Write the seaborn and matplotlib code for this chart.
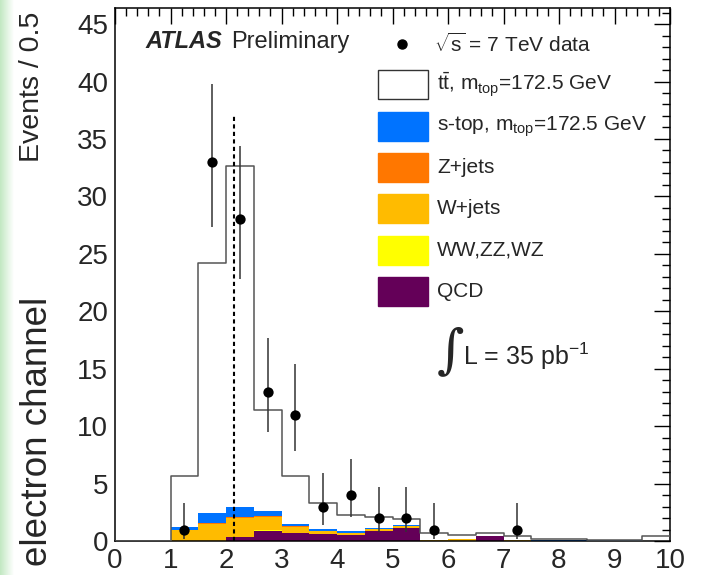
import numpy as np
import pandas as pd
import matplotlib
matplotlib.use("Agg")
import matplotlib.pyplot as plt
from matplotlib.patches import Rectangle
from matplotlib.lines import Line2D
from matplotlib.ticker import MultipleLocator
import seaborn as sns

# ---------------- data ----------------
bin_width = 0.5
x_min, x_max = 0.0, 10.0
bin_centers = [0.25, 0.75, 1.25, 1.75, 2.25, 2.75, 3.25, 3.75, 4.25, 4.75,
               5.25, 5.75, 6.25, 6.75, 7.25, 7.75, 8.25, 8.75, 9.25, 9.75]

ttbar   = [0, 0, 4.48, 21.77, 29.74, 8.74, 4.18, 2.22, 1.39, 0.96,
           0.54, 0.57, 0.31, 0.26, 0.28, 0.09, 0.06, 0.07, 0.05, 0.41]
stop    = [0, 0, 0.25, 0.90, 0.85, 0.45, 0.20, 0.20, 0.13, 0.06,
           0.05, 0.05, 0.04, 0.02, 0.04, 0.08, 0.06, 0.05, 0.05, 0.04]
zjets   = [0, 0, 0.05, 0.05, 0.08, 0.08, 0.10, 0.03, 0.03, 0.03,
           0.03, 0, 0, 0, 0, 0, 0, 0, 0, 0]
wjets   = [0, 0, 0.90, 1.45, 1.62, 1.17, 0.50, 0.20, 0.20, 0.20,
           0.14, 0.08, 0.15, 0.02, 0.08, 0.03, 0.03, 0, 0, 0]
diboson = [0, 0, 0.02, 0.03, 0.03, 0.03, 0.02, 0.02, 0.01, 0.01,
           0.01, 0, 0, 0, 0, 0, 0, 0, 0, 0]
qcd     = [0, 0, 0, 0, 0.35, 0.90, 0.70, 0.63, 0.49, 0.84,
           1.13, 0, 0, 0.40, 0, 0, 0, 0, 0, 0]

data_x  = [1.25, 1.75, 2.25, 2.75, 3.25, 3.75, 4.25, 4.75, 5.25, 5.75, 7.25]
data_n  = [1, 33, 28, 13, 11, 3, 4, 2, 2, 1, 1]
data_lo = [0.17, 27.3, 22.8, 9.5, 7.8, 1.4, 2.1, 0.75, 0.75, 0.17, 0.17]
data_hi = [3.3, 39.8, 34.4, 17.7, 15.4, 5.9, 7.1, 4.7, 4.7, 3.3, 3.3]

cut_x = 2.14
cut_top = 37.0

processes = ["ttbar", "stop", "zjets", "wjets", "diboson", "qcd"]
series = [ttbar, stop, zjets, wjets, diboson, qcd]
colors = {"ttbar": "#ffffff", "stop": "#0073ff", "zjets": "#ff7700",
          "wjets": "#ffbb00", "diboson": "#ffff00", "qcd": "#640058"}
labels = {
    "ttbar": r"t$\bar{\mathrm{t}}$, m$_{\mathrm{top}}$=172.5 GeV",
    "stop": r"s-top, m$_{\mathrm{top}}$=172.5 GeV",
    "zjets": "Z+jets",
    "wjets": "W+jets",
    "diboson": "WW,ZZ,WZ",
    "qcd": "QCD",
}

# ---------------- style ----------------
sns.set_theme(style="white")
plt.rcParams["font.family"] = ["Liberation Sans", "DejaVu Sans"]
plt.rcParams["mathtext.fontset"] = "custom"
plt.rcParams["mathtext.rm"] = "Liberation Sans"
plt.rcParams["mathtext.it"] = "Liberation Sans:italic"
plt.rcParams["mathtext.bf"] = "Liberation Sans:bold"

W, H = 704, 575
fig = plt.figure(figsize=(W / 100, H / 100), dpi=100)
fig.patch.set_facecolor("white")


def fx(x):
    return x / W


def fy(y):
    return 1 - y / H


# faint green strip on the left edge
gax = fig.add_axes([0, 0, 14 / W, 1], zorder=-5)
grad = np.linspace(0, 1, 50)[None, :, None]
c0 = np.array([0.76, 0.91, 0.76])
img = c0 * (1 - grad) + np.array([1, 1, 1]) * grad
gax.imshow(np.repeat(img, 2, axis=0), aspect="auto")
gax.axis("off")

ax = fig.add_axes([fx(115), fy(541), (670 - 115) / W, (541 - 8) / H])

# long table
rows = []
for name, vals in zip(processes, series):
    for xc, v in zip(bin_centers, vals):
        rows.append({"x": xc, "w": v, "process": name})
df = pd.DataFrame(rows)

sns.histplot(data=df, x="x", weights="w", hue="process", hue_order=processes,
             multiple="stack", binwidth=bin_width, binrange=(x_min, x_max),
             element="bars", palette=colors, alpha=1, linewidth=0,
             legend=False, ax=ax, zorder=2)

total = df.groupby("x")["w"].sum().reset_index()
sns.histplot(data=total, x="x", weights="w", binwidth=bin_width,
             binrange=(x_min, x_max), element="step", fill=False,
             color="#555555", linewidth=1.1, ax=ax, zorder=3)

ax.vlines(cut_x, 0, cut_top, colors="black", linestyles=(0, (2.0, 1.6)),
          linewidth=1.5, zorder=4)

d_n = np.array(data_n, dtype=float)
yerr = [d_n - np.array(data_lo), np.array(data_hi) - d_n]
ax.errorbar(data_x, data_n, yerr=yerr, fmt="none", ecolor="#333333",
            elinewidth=1.1, capsize=0, zorder=5)
sns.scatterplot(x=data_x, y=data_n, color="black", s=55, edgecolor="black",
                linewidth=0, ax=ax, zorder=6)

ax.set_xlim(x_min, x_max)
ax.set_ylim(0, 46.4)
ax.set_xlabel("")
ax.set_ylabel("")
ax.xaxis.set_major_locator(MultipleLocator(1))
ax.xaxis.set_minor_locator(MultipleLocator(0.2))
ax.yaxis.set_major_locator(MultipleLocator(5))
ax.yaxis.set_minor_locator(MultipleLocator(1))
ax.tick_params(which="both", direction="in", top=True, right=True,
               width=1.0, color="black", labelsize=20, pad=5)
ax.tick_params(which="major", length=11.5)
ax.tick_params(which="minor", length=5.5)
for s in ax.spines.values():
    s.set_linewidth(1.1)
    s.set_color("black")

# y-axis titles
fig.text(fx(32), fy(12), "Events / 0.5", rotation=90, ha="center", va="top",
         fontsize=20.5)
fig.text(fx(38), fy(566), "electron channel", rotation=90, ha="center",
         va="bottom", fontsize=26.5)

# ATLAS label
fig.text(fx(145), fy(48), "ATLAS", fontsize=17, fontweight="bold",
         fontstyle="italic", va="baseline", ha="left")
fig.text(fx(231), fy(48), "Preliminary", fontsize=17, va="baseline", ha="left")

# legend
fig.add_artist(Line2D([fx(402)], [fy(44)], marker="o", color="black",
                      markersize=6.5, linestyle="none",
                      transform=fig.transFigure))
fig.text(fx(434), fy(44), r"$\sqrt{\mathrm{s}}$ = 7 TeV data", fontsize=15,
         va="center", ha="left")
box_tops = [70, 112, 153, 194, 236, 277]
for name, top in zip(processes, box_tops):
    ec = "#333333" if name == "ttbar" else colors[name]
    fig.add_artist(Rectangle((fx(378), fy(top + 29)), 50 / W, 29 / H,
                             facecolor=colors[name], edgecolor=ec,
                             linewidth=1.0, transform=fig.transFigure))
    fig.text(fx(437), fy(top + 14.5), labels[name], fontsize=15,
             va="center", ha="left")

fig.text(fx(437), fy(352), "\u222b", family="DejaVu Serif", fontsize=38,
         va="center", ha="left")
fig.text(fx(463), fy(365), r"L = 35 pb$^{\mathrm{-1}}$", fontsize=18,
         va="baseline", ha="left")

fig.savefig("out.png", dpi=100)
